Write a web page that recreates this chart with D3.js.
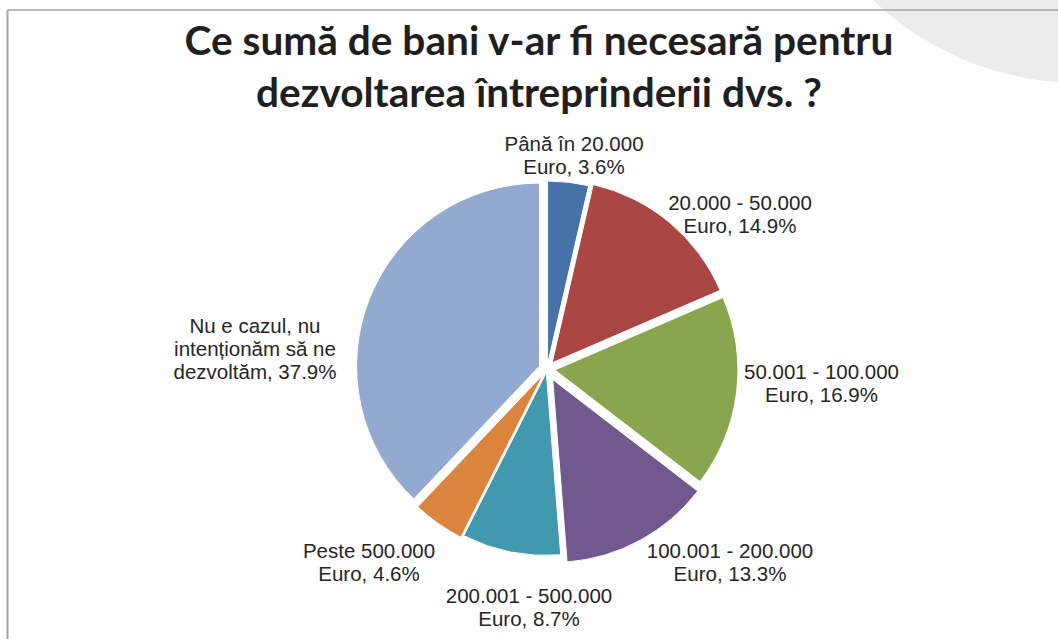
<!DOCTYPE html>
<html>
<head>
<meta charset="utf-8">
<script src="https://cdn.jsdelivr.net/npm/d3@7"></script>
<style>
  html, body { margin: 0; padding: 0; background: #ffffff; }
  svg { display: block; }
</style>
</head>
<body>
<svg id="chart" width="1058" height="639"></svg>
<script>
// ---- data ----
const titleLines = ["Ce sumă de bani v-ar fi necesară pentru", "dezvoltarea întreprinderii dvs. ?"];
const categories = [
  "Până în 20.000\nEuro",
  "20.000 - 50.000\nEuro",
  "50.001 - 100.000\nEuro",
  "100.001 - 200.000\nEuro",
  "200.001 - 500.000\nEuro",
  "Peste 500.000\nEuro",
  "Nu e cazul, nu\nintenționăm să ne\ndezvoltăm"
];
const values = [3.6, 14.9, 16.9, 13.3, 8.7, 4.6, 37.9];

// ---- style / layout ----
const colors = ["#4572A7", "#AA4643", "#89A54E", "#71588F", "#4198AF", "#DB843D", "#93A9CF"];
const explode = [5, 8, 8, 12, 3.5, 6, 8];
// label first-baseline positions relative to pie centre
const labelPos = [[27, -218], [193, -159], [274.5, 10], [183, 189], [-18, 234], [-178, 189], [-292, -36]];

const W = 1058, H = 639;
const cx = 547, cy = 369, R = 183;
const svg = d3.select("#chart");

// decorative background circle (top-right)
svg.append("circle").attr("cx", 1080).attr("cy", -217).attr("r", 300).attr("fill", "#ececec");

// frame lines
svg.append("line").attr("x1", 7.5).attr("x2", W).attr("y1", 10).attr("y2", 10)
  .attr("stroke", "#a6a6a6").attr("stroke-width", 1.5);
svg.append("line").attr("x1", 7.5).attr("x2", 7.5).attr("y1", 10).attr("y2", H)
  .attr("stroke", "#a6a6a6").attr("stroke-width", 2);

// title
const titleG = svg.append("g");
const tBaselines = [55, 107];
titleLines.forEach((t, i) => {
  titleG.append("text")
    .attr("x", 539).attr("y", tBaselines[i])
    .attr("text-anchor", "middle")
    .attr("font-family", "Lato, 'Open Sans', sans-serif")
    .attr("font-weight", 700)
    .attr("font-size", 40)
    .attr("fill", "#1f1f1f")
    .text(t);
});
// fit first line width to ~709px
const t0 = titleG.select("text").node();
const w0 = t0.getComputedTextLength();
const fs = Math.min(42, 40 * 709 / w0);
titleG.selectAll("text").attr("font-size", fs);

// pie
const pie = d3.pie().sort(null).value(d => d)(values);
const arc = d3.arc().innerRadius(0).outerRadius(R);
const g = svg.append("g").attr("transform", `translate(${cx},${cy})`);

g.selectAll("path").data(pie).join("path")
  .attr("d", arc)
  .attr("fill", (d, i) => colors[i])
  .attr("stroke", "#ffffff")
  .attr("stroke-width", 1)
  .attr("transform", (d, i) => {
    const a = (d.startAngle + d.endAngle) / 2;
    return `translate(${Math.sin(a) * explode[i]},${-Math.cos(a) * explode[i]})`;
  });

// labels
pie.forEach((d, i) => {
  const lines = (categories[i] + ", " + values[i].toFixed(1) + "%").split("\n");
  const txt = g.append("text")
    .attr("text-anchor", "middle")
    .attr("font-family", "'Liberation Sans', Arial, sans-serif")
    .attr("font-size", 20.5)
    .attr("fill", "#262626");
  lines.forEach((ln, k) => {
    txt.append("tspan")
      .attr("x", labelPos[i][0])
      .attr("y", labelPos[i][1] + k * 23)
      .text(ln);
  });
});
</script>
</body>
</html>
